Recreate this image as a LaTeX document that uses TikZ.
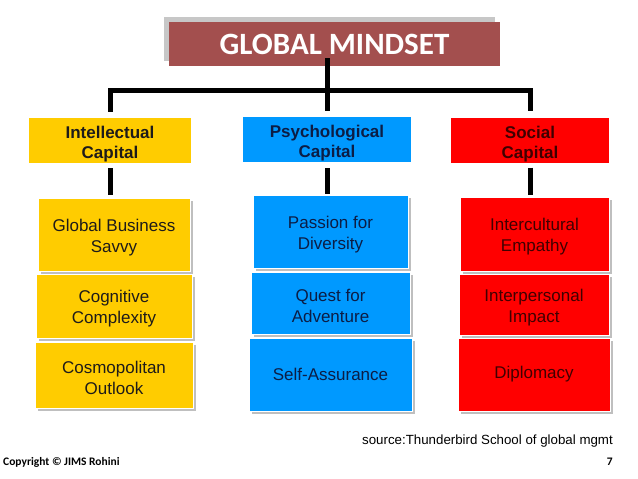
\documentclass[tikz,border=0pt]{standalone}
\usepackage{fontspec}
\setmainfont{Liberation Sans}
\newfontfamily\calibri{Carlito}
\usepackage{tikz}
\usetikzlibrary{calc,shadows}
\definecolor{titred}{HTML}{A34F4E}
\definecolor{capyel}{HTML}{FFCC00}
\definecolor{capblu}{HTML}{0099FF}
\definecolor{capred}{HTML}{FF0000}
\definecolor{txtyel}{HTML}{1E1B1A}
\definecolor{txtblu}{HTML}{0C1D45}
\definecolor{txtred}{HTML}{400000}
\newcommand\capgap{\rule{0pt}{20pt}}
\newcommand\itemgap{\rule{0pt}{18pt}}

\begin{document}
\begin{tikzpicture}[x=1pt,y=-1pt]%
  \tikzstyle{titn}=[fill=titred,text=white,inner sep=0,minimum width=331pt,minimum height=44pt,
    font=\calibri\bfseries\fontsize{31}{36}\selectfont,
    general shadow={fill=black!22,shadow xshift=-5pt,shadow yshift=5pt}]
  \tikzstyle{capn}=[inner sep=0,align=center,minimum height=45pt,font=\bfseries\fontsize{17}{20}\selectfont]
  \tikzstyle{itemn}=[inner sep=0,align=center,draw=white,line width=0.8pt,font=\fontsize{17}{21}\selectfont,
    general shadow={fill=black!25,shadow xshift=2.5pt,shadow yshift=-2.5pt}]
  \tikzstyle{yeln}=[fill=capyel,text=txtyel]
  \tikzstyle{blun}=[fill=capblu,text=txtblu]
  \tikzstyle{redn}=[fill=capred,text=txtred]
  \tikzstyle{bar}=[line width=5pt]
  \useasboundingbox[fill=white] (0,0) rectangle (638,479);
  % title and capitals
  \node(gm)[titn] at (334.5,44) {GLOBAL MINDSET};
  \node(ic)[capn,yeln,minimum width=162pt] at (110,140.5) {\capgap Intellectual\\Capital};
  \node(pc)[capn,blun,minimum width=168pt] at (327,139.5) {\capgap Psychological\\Capital};
  \node(sc)[capn,redn,minimum width=158pt] at (530,140) {\capgap Social\\Capital};
  % items
  \node(i1)[itemn,yeln,minimum width=152pt,minimum height=73pt] at (114,234.5) {\itemgap Global Business\\Savvy};
  \node(i2)[itemn,yeln,minimum width=156pt,minimum height=64pt] at (114,306) {\itemgap Cognitive\\Complexity};
  \node(i3)[itemn,yeln,minimum width=158pt,minimum height=66pt] at (114,375) {\itemgap Cosmopolitan\\Outlook};
  \node(p1)[itemn,blun,minimum width=155pt,minimum height=73pt] at (330.5,231.5) {\itemgap Passion for\\Diversity};
  \node(p2)[itemn,blun,minimum width=159pt,minimum height=62pt] at (330.5,303) {\itemgap Quest for\\Adventure};
  \node(p3)[itemn,blun,minimum width=163pt,minimum height=73pt] at (330.5,374.5) {Self-Assurance};
  \node(s1)[itemn,redn,minimum width=149pt,minimum height=74pt] at (534.5,234) {\itemgap Intercultural\\Empathy};
  \node(s2)[itemn,redn,minimum width=150pt,minimum height=61pt] at (534,304.5) {\itemgap Interpersonal\\Impact};
  \node(s3)[itemn,redn,minimum width=152pt,minimum height=73pt] at (534,374.5) {Diplomacy};
  % connectors
  \coordinate(hub) at (327,90);
  \draw[bar] ($(hub |- gm.south)+(0,-8)$) -- ($(pc.north)+(0,-6)$);
  \draw[bar] ($(ic.north)+(0,-6)$) |- (hub) -| ($(sc.north)+(0,-6)$);
  \draw[bar] ($(ic.south)+(0,5)$) -- ($(ic.south |- i1.north)+(0,-3)$);
  \draw[bar] ($(pc.south)+(0,6)$) -- ($(pc.south |- p1.north)+(0,-1)$);
  \draw[bar] ($(sc.south)+(0,5)$) -- ($(sc.south |- s1.north)+(0,-2)$);
  % footer
  \node(src)[anchor=east,inner sep=0,font=\fontsize{13.3}{16}\selectfont] at (613,441) {source:Thunderbird School of global mgmt};
  \node(copy)[anchor=west,inner sep=0,font=\calibri\bfseries\fontsize{11.5}{13}\selectfont] at (3,462) {Copyright © JIMS Rohini};
  \node(pg)[anchor=east,inner sep=0,font=\calibri\bfseries\fontsize{11.5}{13}\selectfont] at (613,462) {7};
\end{tikzpicture}
\end{document}
